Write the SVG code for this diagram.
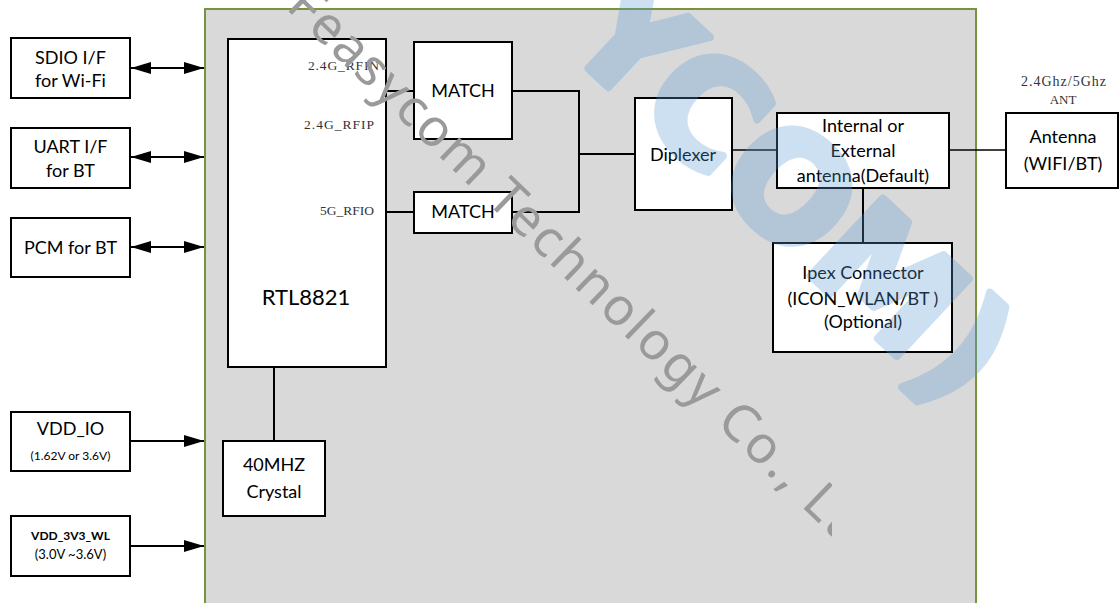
<svg xmlns="http://www.w3.org/2000/svg" width="1119" height="603" viewBox="0 0 1119 603">
<style>
.box{fill:#fff;stroke:#000;stroke-width:2}
.t{font-family:Lato,"Liberation Sans",sans-serif;font-size:18px;fill:#000;text-anchor:middle}
.s{font-family:"Liberation Serif",serif;font-size:13.5px;fill:#333}
.ln{fill:none;stroke:#000;stroke-width:2}
.thin{fill:none;stroke:#000;stroke-width:1.3}
</style>
<defs>
<marker id="ah" markerUnits="userSpaceOnUse" markerWidth="20" markerHeight="12" refX="20" refY="6" orient="auto-start-reverse">
<path d="M0,0 L20,6 L0,12 z" fill="#000"/>
</marker>
<clipPath id="wmclip"><rect x="0" y="0" width="832" height="603"/></clipPath>
</defs>
<rect width="1119" height="603" fill="#fff"/>
<g id="module">
<rect x="205" y="9" width="771" height="600" fill="#d9d9d9" stroke="#77933c" stroke-width="2"/>
</g>
<g id="connectors">
<line class="ln" x1="131" y1="68" x2="204" y2="68" marker-start="url(#ah)" marker-end="url(#ah)"/>
<line class="ln" x1="131" y1="157" x2="204" y2="157" marker-start="url(#ah)" marker-end="url(#ah)"/>
<line class="ln" x1="131" y1="247" x2="204" y2="247" marker-start="url(#ah)" marker-end="url(#ah)"/>
<line class="ln" x1="130" y1="441" x2="204" y2="441" marker-end="url(#ah)"/>
<line class="ln" x1="130" y1="546" x2="204" y2="546" marker-end="url(#ah)"/>
<line class="ln" x1="386" y1="91" x2="414" y2="91"/>
<line class="ln" x1="386" y1="212" x2="414" y2="212"/>
<polyline class="ln" points="512,91 579,91 579,212 512,212"/>
<line class="ln" x1="579" y1="154" x2="635" y2="154"/>
<line class="thin" x1="732" y1="150" x2="777" y2="150"/>
<line class="thin" x1="949" y1="150" x2="1006" y2="150"/>
<line class="ln" x1="863" y1="188" x2="863" y2="243"/>
<line class="ln" x1="274" y1="367" x2="274" y2="441"/>
</g>
<g id="sdio"><rect class="box" x="11" y="38" width="119" height="60"/><text class="t" x="70.5" y="64">SDIO I/F</text><text class="t" x="70.5" y="87">for Wi-Fi</text></g>
<g id="uart"><rect class="box" x="11" y="128" width="119" height="60"/><text class="t" x="70.5" y="153">UART I/F</text><text class="t" x="70.5" y="177">for BT</text></g>
<g id="pcm"><rect class="box" x="11" y="218" width="119" height="59"/><text class="t" x="70.5" y="254">PCM for BT</text></g>
<g id="vddio"><rect class="box" x="11" y="412" width="119" height="59"/><text class="t" x="70.5" y="435">VDD_IO</text><text class="t" x="70.5" y="460" style="font-size:12px">(1.62V or 3.6V)</text></g>
<g id="vdd3v3"><rect class="box" x="11" y="516" width="119" height="60"/><text class="t" x="70.5" y="540" style="font-size:12px;font-weight:bold">VDD_3V3_WL</text><text class="t" x="70.5" y="559" style="font-size:13px">(3.0V ~3.6V)</text></g>
<g id="rtl8821"><rect class="box" x="228" y="39" width="158" height="328"/><text class="t" x="306" y="305" style="font-size:22px">RTL8821</text>
<text class="s" x="379" y="70" text-anchor="end" textLength="71" lengthAdjust="spacing">2.4G_RFIN</text>
<text class="s" x="374" y="129" text-anchor="end" textLength="70" lengthAdjust="spacing">2.4G_RFIP</text>
<text class="s" x="374" y="215" text-anchor="end" textLength="54" lengthAdjust="spacing">5G_RFIO</text></g>
<g id="crystal"><rect class="box" x="223" y="441" width="102" height="75"/><text class="t" x="274" y="471">40MHZ</text><text class="t" x="274" y="498">Crystal</text></g>
<g id="match1"><rect class="box" x="414" y="42" width="98" height="97"/><text class="t" x="463" y="97">MATCH</text></g>
<g id="match2"><rect class="box" x="414" y="192" width="98" height="41"/><text class="t" x="463" y="218">MATCH</text></g>
<g id="diplexer"><rect class="box" x="635" y="98" width="97" height="112"/><text class="t" x="683" y="161">Diplexer</text></g>
<g id="internal"><rect class="box" x="777" y="113" width="172" height="75"/><text class="t" x="863" y="132">Internal or</text><text class="t" x="863" y="157">External</text><text class="t" x="863" y="182">antenna(Default)</text></g>
<g id="antenna"><rect class="box" x="1006" y="113" width="112" height="75"/><text class="t" x="1063" y="143">Antenna</text><text class="t" x="1063" y="170">(WIFI/BT)</text>
<text class="s" x="1021" y="86" style="font-size:14px" textLength="85" lengthAdjust="spacing">2.4Ghz/5Ghz</text><text class="s" x="1063" y="104" text-anchor="middle" style="font-size:13px">ANT</text></g>
<g id="ipex"><rect class="box" x="773" y="243" width="179" height="109"/><text class="t" x="863" y="279">Ipex Connector</text><text class="t" x="863" y="305">(ICON_WLAN/BT )</text><text class="t" x="863" y="328">(Optional)</text></g>
<g id="watermark">
<text transform="translate(560,42) rotate(43)" style="font-family:'DejaVu Sans',sans-serif;font-weight:bold;font-size:145px;fill:#5b9bd5;stroke:#5b9bd5;stroke-width:8;stroke-linejoin:round;opacity:0.3">YCOM)</text>
<g clip-path="url(#wmclip)"><text transform="translate(285,8) rotate(44)" style="font-family:'Noto Sans',sans-serif;font-size:52px;fill:#9a9a9a;letter-spacing:2.5px">Feasycom Technology Co., Ltd</text></g>
</g>
</svg>
